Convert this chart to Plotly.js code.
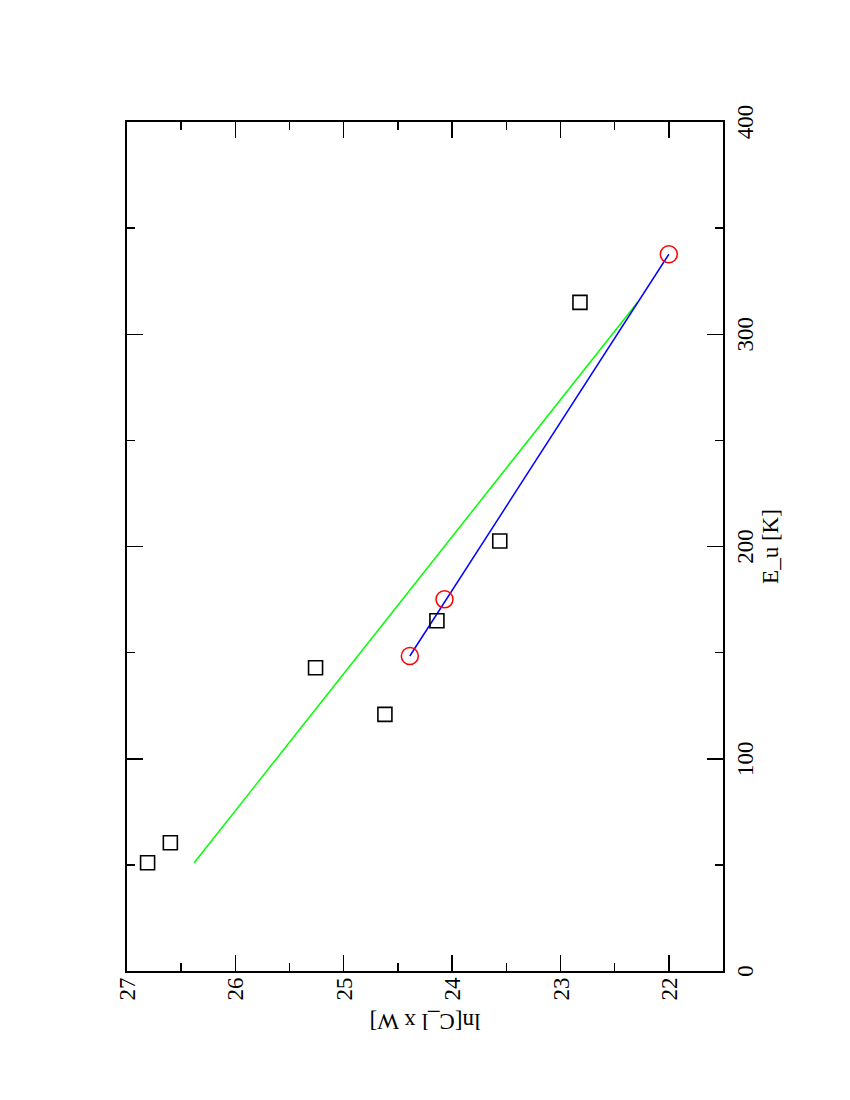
<!DOCTYPE html>
<html>
<head>
<meta charset="utf-8">
<script src="https://cdn.plot.ly/plotly-3.0.1.min.js"></script>
<style>
  html, body { margin: 0; padding: 0; width: 850px; height: 1100px; overflow: hidden; background: #fff; }
  #chart { position: absolute; left: 0; top: 0; width: 1100px; height: 850px;
           transform-origin: 0 0; transform: translateY(1100px) rotate(-90deg); }
</style>
</head>
<body>
<div id="chart"></div>
<script>
// Squares (black, open)
const squareEu = [51.0, 60.4, 120.9, 142.9, 165.0, 202.6, 315.0];
const squareLn = [26.81, 26.60, 24.62, 25.26, 24.14, 23.56, 22.82];
// Circles (red, open)
const circleEu = [148.4, 175.1, 337.7];
const circleLn = [24.39, 24.07, 22.00];
// Green fit line (to squares)
const greenEu = [51.0, 315.0];
const greenLn = [26.38, 22.29];
// Blue fit line (to circles)
const blueEu = [148.4, 337.7];
const blueLn = [24.39, 22.00];
// Ticks
const xTicks = [0, 100, 200, 300, 400];
const yTicks = [22, 23, 24, 25, 26, 27];

const FONT = 'Liberation Serif, Times New Roman, serif';

const traces = [
  { x: greenEu, y: greenLn, mode: 'lines', line: { color: '#00ff00', width: 1.5 }, hoverinfo: 'skip' },
  { x: blueEu, y: blueLn, mode: 'lines', line: { color: '#0000ff', width: 1.5 }, hoverinfo: 'skip' },
  { x: squareEu, y: squareLn, mode: 'markers',
    marker: { symbol: 'square-open', size: 14, color: '#000', line: { color: '#000', width: 1.6 } } },
  { x: circleEu, y: circleLn, mode: 'markers',
    marker: { symbol: 'circle-open', size: 17, color: '#ff0000', line: { color: '#ff0000', width: 1.5 } } }
];

const axisCommon = {
  showgrid: false, zeroline: false,
  showline: true, linecolor: '#000', linewidth: 2,
  ticks: 'inside', ticklen: 16, tickwidth: 1.5, tickcolor: '#000',
  mirror: 'allticks',
  tickfont: { family: FONT, size: 23, color: '#000' }
};

const layout = {
  width: 1100, height: 850,
  margin: { l: 129, r: 122, t: 127, b: 127 },
  paper_bgcolor: '#fff', plot_bgcolor: '#fff',
  showlegend: false,
  font: { family: FONT, color: '#000' },
  xaxis: Object.assign({}, axisCommon, {
    range: [0, 400], tickvals: xTicks, ticktext: xTicks.map(String),
    minor: { dtick: 50, tick0: 0, ticks: 'inside', ticklen: 8, tickwidth: 1.5, tickcolor: '#000' },
    title: { text: 'E_u [K]', font: { family: FONT, size: 23, color: '#000' }, standoff: 0 }
  }),
  yaxis: Object.assign({}, axisCommon, {
    range: [21.5, 27], tickvals: yTicks, ticktext: yTicks.map(String),
    minor: { dtick: 0.5, tick0: 0, ticks: 'inside', ticklen: 8, tickwidth: 1.5, tickcolor: '#000' },
    title: { text: 'ln[C_l x W]', font: { family: FONT, size: 23, color: '#000' }, standoff: 6 }
  })
};

Plotly.newPlot('chart', traces, layout, { displayModeBar: false, staticPlot: true });
</script>
</body>
</html>
